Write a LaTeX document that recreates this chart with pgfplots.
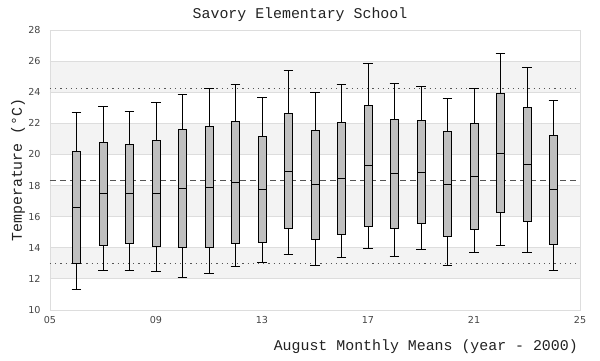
\documentclass[border=0pt]{standalone}
\usepackage{pgfplots}
\pgfplotsset{compat=1.18}
\usepgfplotslibrary{statistics}
\usepackage{fontspec}
\setmainfont{DejaVu Sans}
\newfontfamily\monofont{Liberation Mono}
\definecolor{bandgray}{HTML}{F3F3F3}
\definecolor{gridgray}{HTML}{DDDDDD}
\definecolor{boxgray}{HTML}{BFBFBF}
\definecolor{refgray}{HTML}{555555}
\definecolor{ticktext}{HTML}{444444}
\definecolor{labeltext}{HTML}{222222}
\pgfplotsset{
  bx/.style={solid, draw=black, line width=0.95pt, fill=boxgray, mark=none,
    boxplot/draw direction=y,
    boxplot/box extend=0.3, boxplot/whisker extend=0.36,
    boxplot/every median/.style={draw=black, line width=0.95pt},
    boxplot/every whisker/.style={draw=black, line width=0.95pt}},
}
\begin{document}
\begin{tikzpicture}
\begin{axis}[
  at={(0pt,0pt)}, anchor=origin,
  scale only axis, width=530pt, height=280pt,
  xmin=5, xmax=25, ymin=10, ymax=28,
  set layers,
  axis line style={draw=gridgray, line width=0.8pt},
  ymajorgrids, grid style={draw=gridgray, line width=0.8pt},
  major tick length=0pt,
  xtick={5,9,13,17,21,25},
  xticklabels={05,09,13,17,21,25},
  ytick={10,12,14,16,18,20,22,24,26,28},
  /pgf/number format/assume math mode=true,
  tick label style={font=\fontsize{9.6}{11}\selectfont, text=ticktext},
  yticklabel style={xshift=-6pt},
  xticklabel style={yshift=-3pt},
  clip=false,
]
% alternating bands
\addplot[on layer=axis background, draw=none, fill=bandgray] coordinates {(5,24) (25,24) (25,26) (5,26)} -- cycle;
\addplot[on layer=axis background, draw=none, fill=bandgray] coordinates {(5,20) (25,20) (25,22) (5,22)} -- cycle;
\addplot[on layer=axis background, draw=none, fill=bandgray] coordinates {(5,16) (25,16) (25,18) (5,18)} -- cycle;
\addplot[on layer=axis background, draw=none, fill=bandgray] coordinates {(5,12) (25,12) (25,14) (5,14)} -- cycle;
% reference lines
\addplot[refgray, line width=0.9pt, dash pattern=on 1.2pt off 4pt] coordinates {(5,24.25) (25,24.25)};
\addplot[refgray, line width=0.9pt, dash pattern=on 6pt off 4pt] coordinates {(5,18.3) (25,18.3)};
\addplot[refgray, line width=0.9pt, dash pattern=on 1.2pt off 4pt] coordinates {(5,13.0) (25,13.0)};
% boxes
\addplot[bx, boxplot prepared={draw position=6, lower whisker=11.29, lower quartile=13.00, median=16.60, upper quartile=20.20, upper whisker=22.71}] coordinates {};
\addplot[bx, boxplot prepared={draw position=7, lower whisker=12.55, lower quartile=14.16, median=17.46, upper quartile=20.78, upper whisker=23.09}] coordinates {};
\addplot[bx, boxplot prepared={draw position=8, lower whisker=12.55, lower quartile=14.29, median=17.46, upper quartile=20.65, upper whisker=22.79}] coordinates {};
\addplot[bx, boxplot prepared={draw position=9, lower whisker=12.49, lower quartile=14.10, median=17.52, upper quartile=20.91, upper whisker=23.37}] coordinates {};
\addplot[bx, boxplot prepared={draw position=10, lower whisker=12.10, lower quartile=14.03, median=17.82, upper quartile=21.62, upper whisker=23.87}] coordinates {};
\addplot[bx, boxplot prepared={draw position=11, lower whisker=12.36, lower quartile=14.03, median=17.89, upper quartile=21.81, upper whisker=24.25}] coordinates {};
\addplot[bx, boxplot prepared={draw position=12, lower whisker=12.81, lower quartile=14.29, median=18.21, upper quartile=22.13, upper whisker=24.51}] coordinates {};
\addplot[bx, boxplot prepared={draw position=13, lower whisker=13.07, lower quartile=14.35, median=17.76, upper quartile=21.17, upper whisker=23.67}] coordinates {};
\addplot[bx, boxplot prepared={draw position=14, lower whisker=13.58, lower quartile=15.25, median=18.92, upper quartile=22.64, upper whisker=25.41}] coordinates {};
\addplot[bx, boxplot prepared={draw position=15, lower whisker=12.87, lower quartile=14.54, median=18.04, upper quartile=21.55, upper whisker=24.00}] coordinates {};
\addplot[bx, boxplot prepared={draw position=16, lower whisker=13.39, lower quartile=14.87, median=18.47, upper quartile=22.07, upper whisker=24.51}] coordinates {};
\addplot[bx, boxplot prepared={draw position=17, lower whisker=13.97, lower quartile=15.38, median=19.30, upper quartile=23.16, upper whisker=25.86}] coordinates {};
\addplot[bx, boxplot prepared={draw position=18, lower whisker=13.45, lower quartile=15.25, median=18.79, upper quartile=22.26, upper whisker=24.57}] coordinates {};
\addplot[bx, boxplot prepared={draw position=19, lower whisker=13.90, lower quartile=15.59, median=18.85, upper quartile=22.19, upper whisker=24.38}] coordinates {};
\addplot[bx, boxplot prepared={draw position=20, lower whisker=12.87, lower quartile=14.74, median=18.08, upper quartile=21.49, upper whisker=23.61}] coordinates {};
\addplot[bx, boxplot prepared={draw position=21, lower whisker=13.71, lower quartile=15.19, median=18.60, upper quartile=22.00, upper whisker=24.25}] coordinates {};
\addplot[bx, boxplot prepared={draw position=22, lower whisker=14.16, lower quartile=16.28, median=20.07, upper quartile=23.93, upper whisker=26.50}] coordinates {};
\addplot[bx, boxplot prepared={draw position=23, lower whisker=13.71, lower quartile=15.66, median=19.37, upper quartile=23.03, upper whisker=25.60}] coordinates {};
\addplot[bx, boxplot prepared={draw position=24, lower whisker=12.55, lower quartile=14.22, median=17.76, upper quartile=21.23, upper whisker=23.48}] coordinates {};
\end{axis}
\node[font=\monofont\fontsize{14.9}{16}\selectfont, text=labeltext] at (250pt,295pt) {Savory Elementary School};
\node[font=\monofont\fontsize{14.9}{16}\selectfont, text=labeltext, rotate=90] at (-32pt,140pt) {Temperature (°C)};
\node[font=\monofont\fontsize{14.9}{16}\selectfont, text=labeltext, anchor=east, inner sep=0pt] at (528pt,-37pt) {August Monthly Means (year - 2000)};
\pgfresetboundingbox
\useasboundingbox (-50pt,-50pt) rectangle (550pt,310pt);
\end{tikzpicture}
\end{document}
